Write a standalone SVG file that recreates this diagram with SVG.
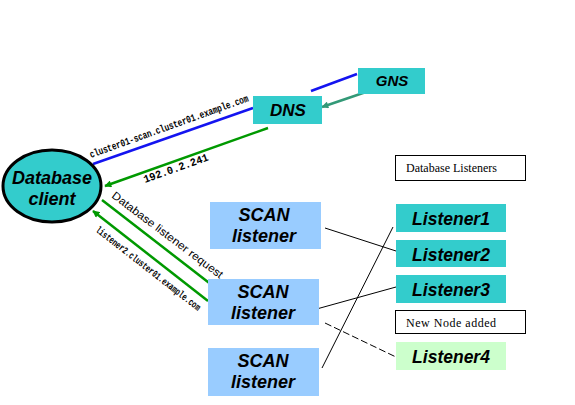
<svg xmlns="http://www.w3.org/2000/svg" width="575" height="405" viewBox="0 0 575 405">
<style>
.lbl{font-family:"Liberation Sans",Arial,sans-serif;font-weight:bold;font-style:italic;text-anchor:middle;fill:#000}
.sm{font-family:"Liberation Serif","Times New Roman",serif;font-size:12px;fill:#000}
.mono{font-family:"Liberation Mono","Courier New",monospace;font-weight:bold;fill:#000}
.teal{fill:#33cccc}
.scan{fill:#99ccff}
.thin{stroke:#000;stroke-width:1;fill:none}
</style>
<defs>
<marker id="ag" viewBox="0 0 10 10" refX="9" refY="5" markerWidth="8" markerHeight="7" markerUnits="userSpaceOnUse" orient="auto"><path d="M0,0 L10,5 L0,10 z" fill="#009900"/></marker>
<marker id="at" viewBox="0 0 10 10" refX="9" refY="5" markerWidth="8" markerHeight="7" markerUnits="userSpaceOnUse" orient="auto"><path d="M0,0 L10,5 L0,10 z" fill="#339977"/></marker>
</defs>
<rect width="575" height="405" fill="#fff"/>
<g id="connectors">
<line x1="357" y1="74" x2="311" y2="91" stroke="#1414f0" stroke-width="2.5"/>
<line x1="366" y1="92" x2="322" y2="107" stroke="#339977" stroke-width="2.5" marker-end="url(#at)"/>
<line x1="93" y1="164" x2="253" y2="108" stroke="#1414f0" stroke-width="2.5"/>
<line x1="268" y1="128" x2="105" y2="186" stroke="#009900" stroke-width="2.5" marker-end="url(#ag)"/>
<line x1="102" y1="200" x2="217" y2="289" stroke="#009900" stroke-width="2.5" marker-end="url(#ag)"/>
<line x1="208" y1="301" x2="93" y2="211" stroke="#009900" stroke-width="2.5" marker-end="url(#ag)"/>
<line class="thin" x1="325" y1="228" x2="396" y2="251"/>
<line class="thin" x1="322" y1="368" x2="393" y2="227"/>
<line class="thin" x1="313" y1="310" x2="396" y2="287"/>
<line class="thin" x1="325" y1="323" x2="396" y2="357" stroke-dasharray="7,3"/>
<text class="mono" font-size="10.5" transform="translate(91,158) rotate(-19.8)" textLength="168" lengthAdjust="spacingAndGlyphs">cluster01-scan.cluster01.example.com</text>
<text class="mono" font-size="11" transform="translate(145,183) rotate(-19.5)" textLength="68" lengthAdjust="spacingAndGlyphs">192.0.2.241</text>
<text font-family="Liberation Sans,Arial,sans-serif" font-size="11" transform="translate(111,197) rotate(37)" textLength="136" lengthAdjust="spacingAndGlyphs">Database listener request</text>
<text class="mono" font-size="10" transform="translate(95,231) rotate(38)" textLength="130" lengthAdjust="spacingAndGlyphs">listener2.cluster01.example.com</text>
</g>
<g id="gns"><rect class="teal" x="358" y="68" width="67" height="26"/><text class="lbl" x="392" y="86" font-size="15">GNS</text></g>
<g id="dns"><rect class="teal" x="253" y="96" width="69" height="28"/><text class="lbl" x="288" y="116" font-size="17">DNS</text></g>
<g id="client"><ellipse cx="52" cy="186" rx="49" ry="36" fill="#33cccc" stroke="#000" stroke-width="3"/><text class="lbl" x="52" y="184" font-size="18">Database</text><text class="lbl" x="52" y="205" font-size="18">client</text></g>
<g id="scan1"><rect class="scan" x="210" y="202" width="111" height="47"/><text class="lbl" x="264" y="221" font-size="18">SCAN</text><text class="lbl" x="264" y="242" font-size="18">listener</text></g>
<g id="scan2"><rect class="scan" x="208" y="279" width="111" height="46"/><text class="lbl" x="263" y="298" font-size="18">SCAN</text><text class="lbl" x="263" y="319" font-size="18">listener</text></g>
<g id="scan3"><rect class="scan" x="208" y="348" width="111" height="48"/><text class="lbl" x="263" y="367" font-size="18">SCAN</text><text class="lbl" x="263" y="388" font-size="18">listener</text></g>
<g id="dblisteners"><rect x="395.5" y="155.5" width="130" height="25" fill="#fff" stroke="#000"/><text class="sm" x="406" y="172">Database Listeners</text></g>
<g id="listener1"><rect class="teal" x="396" y="204" width="110" height="28"/><text class="lbl" x="451" y="225" font-size="17.5">Listener1</text></g>
<g id="listener2"><rect class="teal" x="396" y="240" width="110" height="27"/><text class="lbl" x="451" y="261" font-size="17.5">Listener2</text></g>
<g id="listener3"><rect class="teal" x="396" y="275" width="110" height="28"/><text class="lbl" x="451" y="296" font-size="17.5">Listener3</text></g>
<g id="newnode"><rect x="395.5" y="310.5" width="130" height="23" fill="#fff" stroke="#000"/><text class="sm" x="406" y="327" font-size="11" textLength="90" lengthAdjust="spacing">New Node added</text></g>
<g id="listener4"><rect x="396" y="342" width="110" height="28" fill="#ccffcc"/><text class="lbl" x="451" y="363" font-size="17.5">Listener4</text></g>
</svg>
